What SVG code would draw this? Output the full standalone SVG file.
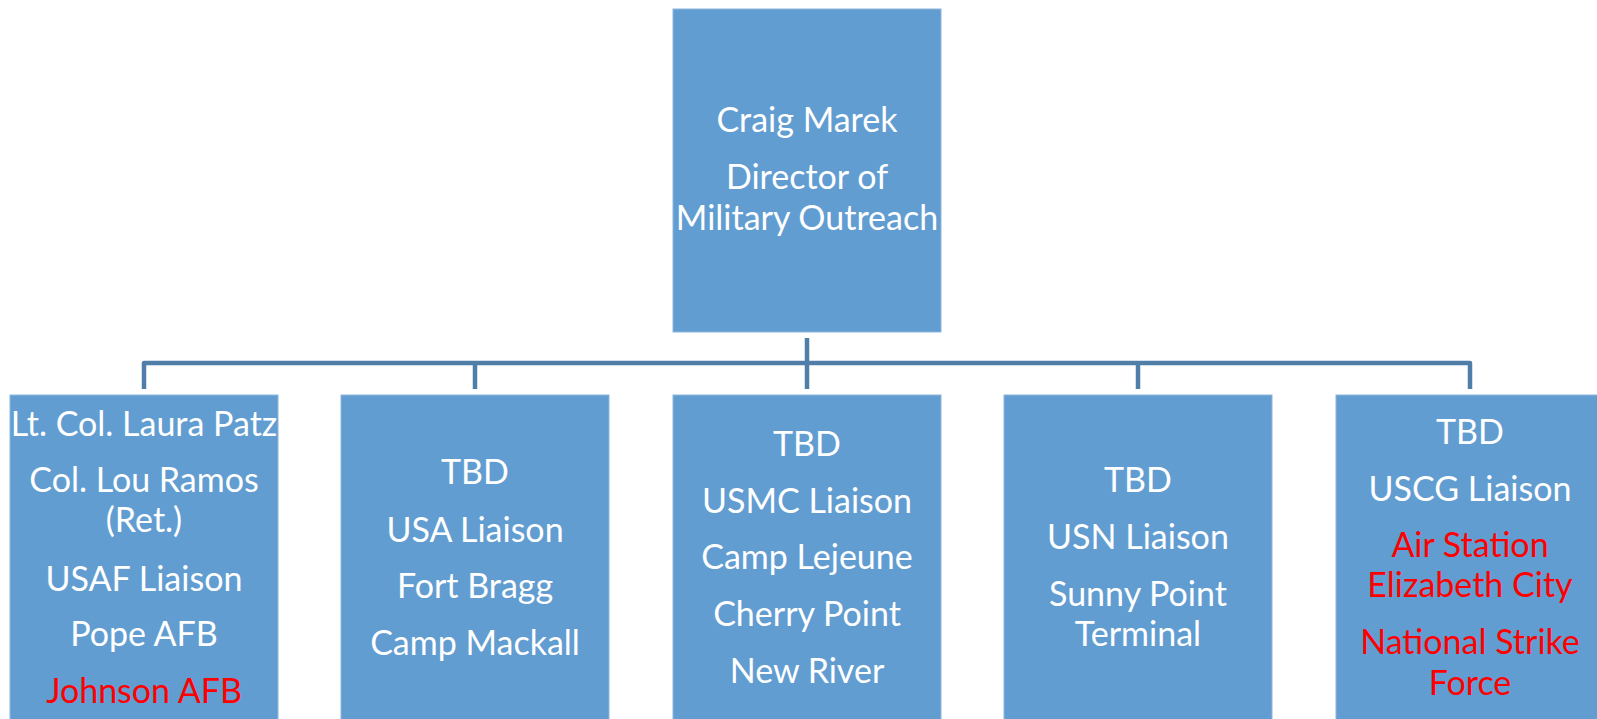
<svg xmlns="http://www.w3.org/2000/svg" width="1597" height="719" viewBox="0 0 1597 719">
<style>
.box{fill:#629DD1;stroke:#8DB6DE;stroke-width:1}
.t{font-family:Lato,"Liberation Sans",sans-serif;font-size:34px;fill:#FFFFFF;text-anchor:middle}
.r{fill:#FF0000}
.c{fill:none;stroke:#4F7EA8;stroke-width:4.5;stroke-linejoin:round}
</style>
<rect width="1597" height="719" fill="#FFFFFF"/>
<g id="connectors">
<path class="c" d="M807,338 V389"/>
<path class="c" d="M144,389 V363 H1470 V389"/>
<path class="c" d="M475,363 V389"/>
<path class="c" d="M1138,363 V389"/>
</g>
<g id="director">
<rect class="box" x="673" y="9" width="268" height="323"/>
<text class="t" x="807" y="132">Craig Marek</text>
<text class="t" x="807" y="189">Director of</text>
<text class="t" x="807" y="230">Military Outreach</text>
</g>
<g id="usaf">
<rect class="box" x="10" y="395" width="268" height="330"/>
<text class="t" x="144" y="436">Lt. Col. Laura Patz</text>
<text class="t" x="144" y="492">Col. Lou Ramos</text>
<text class="t" x="144" y="532">(Ret.)</text>
<text class="t" x="144" y="591">USAF Liaison</text>
<text class="t" x="144" y="646">Pope AFB</text>
<text class="t r" x="144" y="703">Johnson AFB</text>
</g>
<g id="usa">
<rect class="box" x="341" y="395" width="268" height="330"/>
<text class="t" x="475" y="484">TBD</text>
<text class="t" x="475" y="542">USA Liaison</text>
<text class="t" x="475" y="598">Fort Bragg</text>
<text class="t" x="475" y="655">Camp Mackall</text>
</g>
<g id="usmc">
<rect class="box" x="673" y="395" width="268" height="330"/>
<text class="t" x="807" y="456">TBD</text>
<text class="t" x="807" y="513">USMC Liaison</text>
<text class="t" x="807" y="569">Camp Lejeune</text>
<text class="t" x="807" y="626">Cherry Point</text>
<text class="t" x="807" y="683">New River</text>
</g>
<g id="usn">
<rect class="box" x="1004" y="395" width="268" height="330"/>
<text class="t" x="1138" y="492">TBD</text>
<text class="t" x="1138" y="549">USN Liaison</text>
<text class="t" x="1138" y="606">Sunny Point</text>
<text class="t" x="1138" y="646">Terminal</text>
</g>
<g id="uscg">
<rect class="box" x="1336" y="395" width="268" height="330"/>
<text class="t" x="1470" y="444">TBD</text>
<text class="t" x="1470" y="501">USCG Liaison</text>
<text class="t r" x="1470" y="557">Air Station</text>
<text class="t r" x="1470" y="597">Elizabeth City</text>
<text class="t r" x="1470" y="654">National Strike</text>
<text class="t r" x="1470" y="695">Force</text>
</g>
</svg>
